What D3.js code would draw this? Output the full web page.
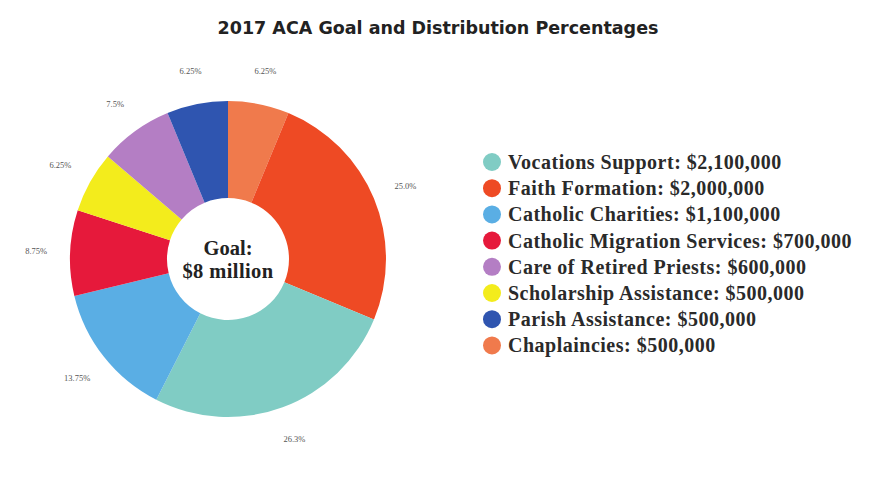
<!DOCTYPE html>
<html>
<head>
<meta charset="utf-8">
<script src="https://cdn.jsdelivr.net/npm/d3@7/dist/d3.min.js"></script>
<style>
  body { margin: 0; background: #fff; }
</style>
</head>
<body>
<div id="chart"></div>
<script>
// slice order, clockwise from 12 o'clock
const categories = ['Chaplaincies', 'Faith Formation', 'Vocations Support', 'Catholic Charities',
    'Catholic Migration Services', 'Scholarship Assistance', 'Care of Retired Priests', 'Parish Assistance'];
const amounts = [500000, 2000000, 2100000, 1100000, 700000, 500000, 600000, 500000];
const pctLabels = ['6.25%', '25.0%', '26.3%', '13.75%', '8.75%', '6.25%', '7.5%', '6.25%'];
const colors = ['#f07a4c', '#ee4a24', '#80ccc4', '#5aaee4', '#e6193b', '#f3ec1c', '#b47ec4', '#2f55b0'];

// legend order
const legendOrder = ['Vocations Support', 'Faith Formation', 'Catholic Charities', 'Catholic Migration Services',
    'Care of Retired Priests', 'Scholarship Assistance', 'Parish Assistance', 'Chaplaincies'];

const width = 878, height = 494;
const cx = 228, cy = 259, outerR = 158, innerR = 61, labelR = 192;

const svg = d3.select('#chart').append('svg')
    .attr('width', width)
    .attr('height', height);

svg.append('text')
    .attr('x', 438)
    .attr('y', 34)
    .attr('text-anchor', 'middle')
    .style('font-family', 'DejaVu Sans, sans-serif')
    .style('font-weight', 'bold')
    .style('font-size', '17.5px')
    .style('fill', '#222')
    .text('2017 ACA Goal and Distribution Percentages');

const data = categories.map((c, i) => ({ name: c, value: amounts[i], label: pctLabels[i] }));
const color = d3.scaleOrdinal().domain(categories).range(colors);

const pie = d3.pie().sort(null).value(d => d.value);
const arc = d3.arc().innerRadius(innerR).outerRadius(outerR);
const labelArc = d3.arc().innerRadius(labelR).outerRadius(labelR);

const g = svg.append('g').attr('transform', 'translate(' + cx + ',' + cy + ')');

g.selectAll('path')
    .data(pie(data))
    .enter()
    .append('path')
    .attr('d', arc)
    .attr('fill', d => color(d.data.name));

g.selectAll('.pct')
    .data(pie(data))
    .enter()
    .append('text')
    .attr('class', 'pct')
    .attr('transform', d => 'translate(' + labelArc.centroid(d) + ')')
    .attr('dy', '0.35em')
    .attr('text-anchor', 'middle')
    .style('font-family', 'Liberation Serif, serif')
    .style('font-size', '8.5px')
    .style('fill', '#555')
    .text(d => d.data.label);

// center text
g.append('text')
    .attr('y', -4)
    .attr('text-anchor', 'middle')
    .style('font-family', 'Liberation Serif, serif')
    .style('font-weight', 'bold')
    .style('font-size', '20.5px')
    .style('fill', '#222')
    .text('Goal:');
g.append('text')
    .attr('y', 19)
    .attr('text-anchor', 'middle')
    .style('font-family', 'Liberation Serif, serif')
    .style('font-weight', 'bold')
    .style('font-size', '20.5px')
    .style('letter-spacing', '0.4px')
    .style('fill', '#222')
    .text('$8 million');

// legend
const fmt = d3.format(',');
const legend = svg.append('g').attr('transform', 'translate(492,162)');
const rows = legend.selectAll('g')
    .data(legendOrder)
    .enter()
    .append('g')
    .attr('transform', (d, i) => 'translate(0,' + (i * 26.2) + ')');

rows.append('circle')
    .attr('r', 9)
    .attr('fill', d => color(d));

rows.append('text')
    .attr('x', 16)
    .attr('dy', '0.35em')
    .style('font-family', 'Liberation Serif, serif')
    .style('font-weight', 'bold')
    .style('font-size', '20px')
    .style('letter-spacing', '0.5px')
    .style('fill', '#2a2a2a')
    .text(d => d + ': $' + fmt(amounts[categories.indexOf(d)]));
</script>
</body>
</html>
